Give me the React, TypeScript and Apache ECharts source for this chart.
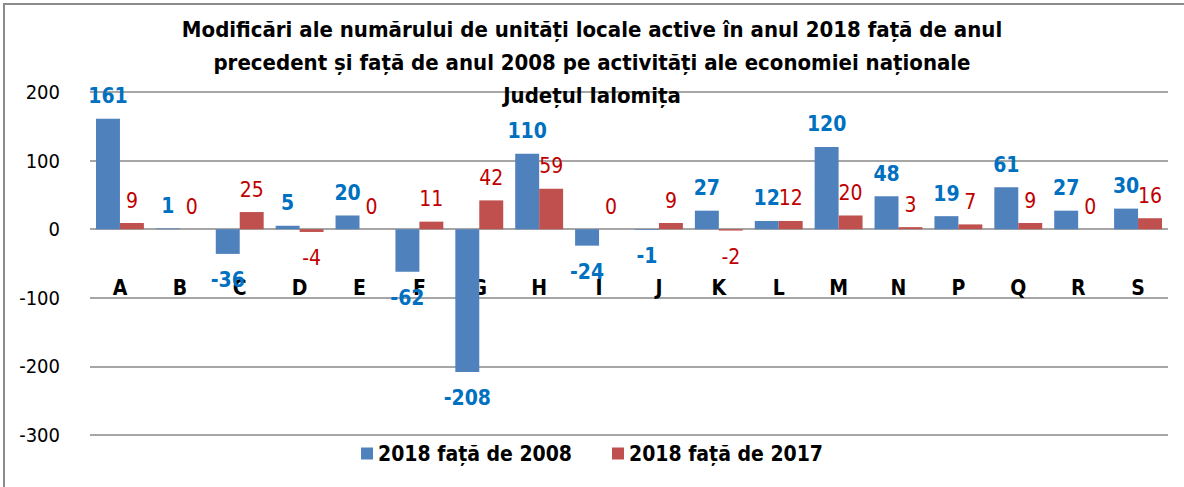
import React, { useEffect, useRef } from "react";
import * as echarts from "echarts";

const categories = ["A", "B", "C", "D", "E", "F", "G", "H", "I", "J", "K", "L", "M", "N", "P", "Q", "R", "S"];
const vs2008 = [161, 1, -36, 5, 20, -62, -208, 110, -24, -1, 27, 12, 120, 48, 19, 61, 27, 30];
const vs2017 = [9, 0, 25, -4, 0, 11, 42, 59, 0, 9, -2, 12, 20, 3, 7, 9, 0, 16];
const seriesNames = ["2018 față de 2008", "2018 față de 2017"];
const yTicks = { min: -300, max: 200, interval: 100 };
const titleText = "Modificări ale numărului de unități locale active în anul 2018 față de anul\nprecedent și față de anul 2008 pe activități ale economiei naționale\nJudețul Ialomița";

const FONT = "'Liberation Sans Narrow', 'DejaVu Sans Condensed', 'Arial Narrow', sans-serif";

function mkData(vals: number[], posDist: number, negDist: number) {
  return vals.map((v) => ({
    value: v,
    label: { position: v < 0 ? "bottom" : "top", distance: v < 0 ? negDist : posDist },
  }));
}

export default function App() {
  const ref = useRef<HTMLDivElement>(null);
  useEffect(() => {
    document.body.style.margin = "0";
    const chart = echarts.init(ref.current!, null, { renderer: "svg" });
    chart.setOption({
      animation: false,
      backgroundColor: "#ffffff",
      textStyle: { fontFamily: FONT },
      title: {
        text: titleText,
        left: "center",
        top: 8,
        textStyle: { fontFamily: FONT, fontSize: 22, fontWeight: "bold", color: "#000", lineHeight: 33 },
      },
      graphic: [
        {
          type: "rect",
          shape: { x: 4, y: 4, width: 1200, height: 520 },
          style: { fill: "none", stroke: "#8c8c8c", lineWidth: 2 },
          silent: true,
        },
      ],
      legend: {
        bottom: 18,
        left: "center",
        itemWidth: 12,
        itemHeight: 12,
        itemGap: 40,
        icon: "rect",
        textStyle: { fontFamily: FONT, fontSize: 21, fontWeight: "bold", color: "#000" },
        data: seriesNames,
      },
      grid: { left: 90, right: 16, top: 92, bottom: 52, outerBoundsMode: "none" },
      xAxis: {
        type: "category",
        data: categories,
        position: "bottom",
        axisLine: { show: false, onZero: false },
        axisTick: { show: false },
        axisLabel: { margin: -158, fontFamily: FONT, fontSize: 21, fontWeight: "bold", color: "#000" },
      },
      yAxis: {
        type: "value",
        min: yTicks.min,
        max: yTicks.max,
        interval: yTicks.interval,
        axisLine: { show: false },
        axisTick: { show: false },
        splitLine: { lineStyle: { color: "#a6a6a6", width: 2 } },
        axisLabel: { margin: 30, fontFamily: FONT, fontSize: 20, color: "#000" },
      },
      series: [
        {
          name: seriesNames[0],
          type: "bar",
          data: mkData(vs2008, 12, 16),
          barGap: "0%",
          barCategoryGap: "20%",
          itemStyle: { color: "#4F81BD" },
          label: { show: true, fontFamily: FONT, fontSize: 21, fontWeight: "bold", color: "#0070C0" },
        },
        {
          name: seriesNames[1],
          type: "bar",
          data: mkData(vs2017, 12, 16),
          barGap: "0%",
          barCategoryGap: "20%",
          itemStyle: { color: "#C0504D" },
          label: { show: true, fontFamily: FONT, fontSize: 21, color: "#C00000" },
        },
      ],
    });
    return () => chart.dispose();
  }, []);
  return <div ref={ref} style={{ width: 1184, height: 487 }} />;
}
